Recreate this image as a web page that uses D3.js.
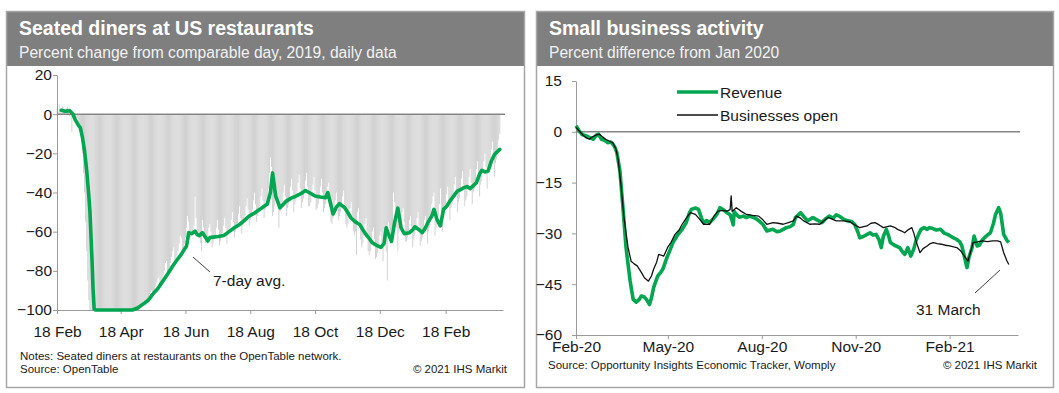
<!DOCTYPE html>
<html lang="en">
<head>
<meta charset="UTF-8">
<title>Seated diners / Small business activity</title>
<script src="https://cdn.jsdelivr.net/npm/d3@7"></script>
<style>
html,body{margin:0;padding:0;background:#fff}
svg{display:block;font-family:"Liberation Sans",Arial,sans-serif}
.panel-border{fill:none;stroke:#a6a6a6;stroke-width:1.5}
.header{fill:#7f7f7f}
.title{fill:#fff;font-size:19.5px;font-weight:bold}
.subtitle{fill:#f2f2f2;font-size:15.6px}
.axis text{font-size:15.5px;fill:#1a1a1a;font-family:"Liberation Sans",Arial,sans-serif}
.axis path,.axis line{stroke:#9a9a9a;stroke-width:1}
.zero{stroke:#858585;stroke-width:1.5}
.note{font-size:11.5px;fill:#1a1a1a}
.annot{font-size:15.5px;fill:#1a1a1a}
</style>
</head>
<body>
<svg id="chart" width="1059" height="393"></svg>
<script>
// ── Left: seated diners, daily from 18 Feb 2020 (one row per week) ──
var dinersStart = '2020-02-18';
var dinersDaily = [
  [3, 1, 5, 2, 0, 4, 1], [2, 0, 3, 4, 1, -1, 2], [-9, -2, -1, -4, -3, -2, -6],
  [-6, -9, -14, -20, -30, -40, -55], [-70, -85, -95, -100, -100, -100, -100],
  [-100, -100, -100, -100, -100, -100, -100], [-100, -100, -100, -100, -100, -100, -100],
  [-100, -100, -100, -100, -100, -100, -100], [-100, -100, -100, -100, -100, -100, -100],
  [-100, -100, -100, -100, -100, -100, -100], [-100, -100, -100, -100, -100, -100, -100],
  [-99, -98, -97, -97, -96, -95, -98], [-96, -95, -94, -92, -91, -90, -94],
  [-92, -90, -88, -86, -84, -83, -88], [-86, -84, -82, -80, -76, -75, -82],
  [-80, -78, -76, -73, -70, -68, -77], [-74, -72, -70, -66, -62, -63, -72],
  [-68, -66, -63, -58, -52, -55, -64], [-63, -62, -60, -57, -42, -53, -62],
  [-62, -61, -66, -70, -54, -58, -63], [-66, -65, -63, -58, -56, -60, -68],
  [-66, -64, -62, -58, -54, -59, -67], [-65, -63, -61, -57, -53, -58, -66],
  [-62, -60, -58, -54, -50, -55, -63], [-60, -58, -56, -51, -47, -53, -61],
  [-57, -55, -52, -47, -43, -49, -57], [-54, -52, -49, -44, -40, -46, -55],
  [-52, -50, -47, -42, -38, -44, -53], [-49, -47, -44, -38, -30, -22, -27],
  [-52, -50, -47, -42, -38, -44, -58], [-50, -48, -45, -40, -36, -42, -52],
  [-48, -46, -42, -37, -33, -39, -50], [-46, -44, -40, -35, -31, -38, -48],
  [-45, -43, -39, -34, -30, -37, -47], [-47, -45, -41, -36, -32, -39, -49],
  [-48, -46, -42, -37, -33, -40, -50], [-48, -46, -43, -37, -35, -44, -55],
  [-56, -53, -49, -44, -40, -46, -54], [-52, -50, -47, -42, -39, -46, -56],
  [-58, -56, -53, -48, -45, -52, -60], [-62, -60, -72, -50, -48, -55, -64],
  [-68, -66, -62, -56, -53, -60, -70], [-72, -70, -66, -60, -58, -64, -74],
  [-73, -71, -68, -62, -60, -66, -75], [-68, -62, -70, -85, -55, -58, -66],
  [-64, -58, -40, -45, -52, -58, -70], [-60, -58, -55, -50, -48, -55, -65],
  [-65, -63, -60, -54, -52, -58, -68], [-64, -62, -58, -53, -50, -57, -67],
  [-65, -63, -59, -54, -52, -58, -66], [-60, -58, -52, -46, -42, -40, -62],
  [-58, -56, -52, -46, -38, -50, -60], [-53, -51, -47, -41, -37, -44, -54],
  [-48, -46, -42, -36, -32, -39, -50], [-45, -43, -39, -33, -29, -36, -47],
  [-44, -42, -38, -32, -28, -35, -46], [-40, -38, -34, -28, -24, -30, -42],
  [-36, -34, -30, -24, -20, -27, -38], [-30, -28, -24, -18, -14, -20, -32],
  [-25, -23, -19, -13, -10]
];

// 7-day average
var dinersAvg = [
  ['2020-02-22', 2], ['2020-02-26', 1.5], ['2020-03-01', 1.8], ['2020-03-04', 0], ['2020-03-06', -2.7],
  ['2020-03-09', -5.5], ['2020-03-11', -7], ['2020-03-13', -12], ['2020-03-15', -19], ['2020-03-17', -29],
  ['2020-03-19', -42], ['2020-03-20', -49.5], ['2020-03-22', -75], ['2020-03-23', -90], ['2020-03-24', -99.5],
  ['2020-03-25', -100], ['2020-04-29', -100], ['2020-05-04', -99], ['2020-05-09', -97], ['2020-05-14', -95],
  ['2020-05-18', -92], ['2020-05-23', -89], ['2020-05-28', -85], ['2020-06-02', -81], ['2020-06-06', -77.5],
  ['2020-06-10', -74.5], ['2020-06-14', -71.6], ['2020-06-17', -69], ['2020-06-19', -67.3], ['2020-06-21', -60.5],
  ['2020-06-24', -61], ['2020-06-27', -59.7], ['2020-06-29', -61.5], ['2020-07-01', -62], ['2020-07-04', -60.5],
  ['2020-07-07', -63], ['2020-07-09', -64.8], ['2020-07-11', -63], ['2020-07-14', -62.8], ['2020-07-19', -62.5],
  ['2020-07-24', -62], ['2020-07-29', -60], ['2020-08-03', -58], ['2020-08-08', -56.3], ['2020-08-12', -54.5],
  ['2020-08-17', -52], ['2020-08-22', -50.5], ['2020-08-27', -48.6], ['2020-08-31', -47], ['2020-09-03', -46],
  ['2020-09-06', -40], ['2020-09-08', -30], ['2020-09-11', -42], ['2020-09-15', -47.8], ['2020-09-21', -44.4],
  ['2020-09-25', -43], ['2020-09-30', -41.8], ['2020-10-05', -40.5], ['2020-10-09', -39], ['2020-10-14', -40.5],
  ['2020-10-18', -41.8], ['2020-10-23', -42.3], ['2020-10-28', -42.7], ['2020-10-30', -40], ['2020-11-04', -51],
  ['2020-11-07', -47.5], ['2020-11-10', -45.7], ['2020-11-15', -47.8], ['2020-11-21', -53], ['2020-11-25', -55],
  ['2020-11-29', -56.3], ['2020-12-02', -59], ['2020-12-05', -61.4], ['2020-12-08', -63.5], ['2020-12-11', -65.7],
  ['2020-12-15', -67], ['2020-12-19', -68], ['2020-12-22', -66], ['2020-12-24', -58], ['2020-12-26', -61],
  ['2020-12-29', -65], ['2021-01-01', -55], ['2021-01-04', -48], ['2021-01-07', -58], ['2021-01-10', -61],
  ['2021-01-15', -60.5], ['2021-01-18', -59], ['2021-01-20', -57.5], ['2021-01-24', -59], ['2021-01-27', -60.5],
  ['2021-01-30', -58], ['2021-02-02', -54.6], ['2021-02-05', -52], ['2021-02-07', -48.6], ['2021-02-10', -54],
  ['2021-02-13', -57], ['2021-02-16', -48.6], ['2021-02-19', -47], ['2021-02-22', -44.4], ['2021-02-26', -41.5],
  ['2021-03-01', -39.3], ['2021-03-04', -38.5], ['2021-03-07', -37.6], ['2021-03-10', -37], ['2021-03-13', -38],
  ['2021-03-16', -36.5], ['2021-03-19', -35], ['2021-03-22', -30.5], ['2021-03-24', -28.7], ['2021-03-27', -29.5],
  ['2021-03-30', -29], ['2021-04-02', -24], ['2021-04-05', -20.6], ['2021-04-08', -19], ['2021-04-10', -18]
];

var dinersTicksY = [20, 0, -20, -40, -60, -80, -100];
var dinersTicksX = ['2020-02-18', '2020-04-18', '2020-06-18', '2020-08-18', '2020-10-18', '2020-12-18', '2021-02-18'];
var dinersTickLabels = ['18 Feb', '18 Apr', '18 Jun', '18 Aug', '18 Oct', '18 Dec', '18 Feb'];

// ── Right: small business activity ──
var revenue = [
  ['2020-02-01', 1.8], ['2020-02-04', 0.3], ['2020-02-07', -0.8], ['2020-02-11', -1.2], ['2020-02-15', -1.8],
  ['2020-02-18', -2.2], ['2020-02-21', -1], ['2020-02-23', -0.7], ['2020-02-26', -2.2], ['2020-02-29', -2.5],
  ['2020-03-03', -3.2], ['2020-03-06', -3], ['2020-03-08', -3.6], ['2020-03-10', -4.5], ['2020-03-12', -6.1],
  ['2020-03-15', -11.5], ['2020-03-18', -22.4], ['2020-03-21', -34.2], ['2020-03-25', -44], ['2020-03-28', -49.5],
  ['2020-03-31', -50.3], ['2020-04-03', -49.5], ['2020-04-05', -48.5], ['2020-04-08', -48.8], ['2020-04-10', -49.5],
  ['2020-04-13', -51], ['2020-04-15', -49], ['2020-04-17', -46], ['2020-04-21', -42.6], ['2020-04-24', -41.5],
  ['2020-04-26', -40.6], ['2020-04-30', -37.2], ['2020-05-03', -35], ['2020-05-06', -32.7], ['2020-05-11', -30.3],
  ['2020-05-15', -28.8], ['2020-05-19', -26.8], ['2020-05-22', -24], ['2020-05-24', -22.9], ['2020-05-28', -22.5],
  ['2020-05-31', -22.9], ['2020-06-03', -25.5], ['2020-06-05', -26.8], ['2020-06-08', -26.2], ['2020-06-11', -26.8],
  ['2020-06-15', -25.5], ['2020-06-18', -24.4], ['2020-06-21', -22.4], ['2020-06-25', -23.2], ['2020-06-28', -23.9],
  ['2020-07-01', -24.5], ['2020-07-03', -26.3], ['2020-07-04', -27.5], ['2020-07-05', -23.5], ['2020-07-07', -24.4],
  ['2020-07-10', -25.2], ['2020-07-14', -24.9], ['2020-07-17', -25.3], ['2020-07-20', -24.9], ['2020-07-24', -25.3],
  ['2020-07-27', -25.8], ['2020-07-30', -26.5], ['2020-08-02', -27.3], ['2020-08-06', -29.3], ['2020-08-09', -29],
  ['2020-08-12', -28.8], ['2020-08-16', -29.5], ['2020-08-19', -29.3], ['2020-08-22', -28.8], ['2020-08-25', -28.3],
  ['2020-08-29', -28], ['2020-09-01', -27.3], ['2020-09-03', -25.3], ['2020-09-05', -24.8], ['2020-09-08', -23.9],
  ['2020-09-11', -25], ['2020-09-15', -26.3], ['2020-09-20', -25.3], ['2020-09-24', -26], ['2020-09-29', -26.8],
  ['2020-10-02', -25.8], ['2020-10-06', -24.9], ['2020-10-10', -25.5], ['2020-10-13', -24.5], ['2020-10-16', -24.9],
  ['2020-10-20', -25.8], ['2020-10-24', -26.3], ['2020-10-28', -26.5], ['2020-10-31', -27.3], ['2020-11-03', -29.5],
  ['2020-11-05', -31.3], ['2020-11-08', -31], ['2020-11-11', -30.5], ['2020-11-15', -29.8], ['2020-11-18', -30.5],
  ['2020-11-21', -30.3], ['2020-11-24', -32], ['2020-11-26', -34.2], ['2020-11-28', -31], ['2020-12-01', -28.8],
  ['2020-12-03', -30.5], ['2020-12-05', -32.7], ['2020-12-09', -33.5], ['2020-12-14', -34.2], ['2020-12-17', -35.5],
  ['2020-12-19', -36.2], ['2020-12-22', -34.2], ['2020-12-25', -36.7], ['2020-12-28', -34.5], ['2020-12-30', -32.2],
  ['2021-01-02', -30], ['2021-01-04', -28.8], ['2021-01-07', -28.3], ['2021-01-10', -28.8], ['2021-01-12', -28.3],
  ['2021-01-15', -28.5], ['2021-01-19', -29], ['2021-01-23', -28.8], ['2021-01-27', -30], ['2021-01-30', -30.3],
  ['2021-02-03', -31], ['2021-02-08', -31.8], ['2021-02-11', -32.5], ['2021-02-13', -33.7], ['2021-02-16', -37.5],
  ['2021-02-18', -40.1], ['2021-02-20', -37], ['2021-02-23', -34.2], ['2021-02-25', -30.8], ['2021-02-28', -33.7],
  ['2021-03-02', -33.5], ['2021-03-05', -32], ['2021-03-07', -31.3], ['2021-03-10', -30.5], ['2021-03-13', -29.8],
  ['2021-03-16', -27], ['2021-03-18', -24.4], ['2021-03-21', -22.4], ['2021-03-23', -24], ['2021-03-26', -30.3],
  ['2021-03-29', -32], ['2021-03-31', -32.7]
];

var businessesOpen = [
  ['2020-02-01', 1.3], ['2020-02-04', 0.3], ['2020-02-08', -1], ['2020-02-11', -1.8], ['2020-02-14', -2.2],
  ['2020-02-17', -1.5], ['2020-02-19', -1.2], ['2020-02-21', -0.9], ['2020-02-24', -0.7], ['2020-02-27', -1.5],
  ['2020-03-01', -2.2], ['2020-03-05', -2.8], ['2020-03-08', -3.2], ['2020-03-11', -5], ['2020-03-13', -7.6],
  ['2020-03-16', -15.5], ['2020-03-19', -25.3], ['2020-03-23', -34.2], ['2020-03-26', -38.2], ['2020-03-29', -39],
  ['2020-04-01', -39.6], ['2020-04-05', -41.5], ['2020-04-08', -43.1], ['2020-04-12', -44.1], ['2020-04-15', -42.5],
  ['2020-04-17', -40.6], ['2020-04-20', -38.5], ['2020-04-22', -36.2], ['2020-04-25', -36.5], ['2020-04-27', -36.7],
  ['2020-05-01', -34], ['2020-05-04', -32.7], ['2020-05-08', -30.3], ['2020-05-12', -29], ['2020-05-15', -27.3],
  ['2020-05-19', -25.5], ['2020-05-23', -23.9], ['2020-05-28', -24.4], ['2020-06-01', -25.8], ['2020-06-05', -27.3],
  ['2020-06-11', -27.3], ['2020-06-15', -25], ['2020-06-19', -23.4], ['2020-06-24', -23.2], ['2020-06-28', -23.4],
  ['2020-07-01', -23], ['2020-07-02', -18.9], ['2020-07-03', -23.5], ['2020-07-07', -22.4], ['2020-07-12', -23.5],
  ['2020-07-17', -24.4], ['2020-07-23', -24.7], ['2020-07-29', -24.9], ['2020-08-02', -26], ['2020-08-06', -27.3],
  ['2020-08-12', -26.8], ['2020-08-17', -27], ['2020-08-22', -27.3], ['2020-08-27', -26.8], ['2020-09-01', -26.3],
  ['2020-09-04', -24.9], ['2020-09-08', -25.5], ['2020-09-11', -26.3], ['2020-09-17', -27.3], ['2020-09-22', -27.2],
  ['2020-09-27', -27.3], ['2020-10-01', -26.3], ['2020-10-05', -25.3], ['2020-10-09', -25.8], ['2020-10-13', -26.3],
  ['2020-10-20', -26.3], ['2020-10-26', -26.5], ['2020-10-31', -27.5], ['2020-11-05', -28.3], ['2020-11-09', -28],
  ['2020-11-12', -27.8], ['2020-11-16', -27], ['2020-11-20', -26.8], ['2020-11-24', -27.5], ['2020-11-28', -28.3],
  ['2020-12-02', -28], ['2020-12-05', -27.8], ['2020-12-09', -28.2], ['2020-12-12', -28.8], ['2020-12-16', -29.3],
  ['2020-12-19', -29.8], ['2020-12-23', -28.8], ['2020-12-26', -28.3], ['2020-12-28', -30], ['2020-12-30', -32.2],
  ['2021-01-03', -35.7], ['2021-01-06', -34.5], ['2021-01-10', -33.7], ['2021-01-13', -33], ['2021-01-16', -32.7],
  ['2021-01-20', -33], ['2021-01-24', -33.2], ['2021-01-28', -33.5], ['2021-02-01', -33.7], ['2021-02-05', -34],
  ['2021-02-08', -34.2], ['2021-02-12', -35.2], ['2021-02-15', -36.5], ['2021-02-19', -38.2], ['2021-02-22', -35],
  ['2021-02-24', -32.7], ['2021-02-28', -32.5], ['2021-03-05', -32.2], ['2021-03-10', -32.4], ['2021-03-15', -32.2],
  ['2021-03-20', -32.2], ['2021-03-23', -32.5], ['2021-03-26', -35.7], ['2021-03-29', -38], ['2021-03-31', -39.2]
];

var smbTicksY = [15, 0, -15, -30, -45, -60];
var smbTicksX = ['2020-02-01', '2020-05-01', '2020-08-01', '2020-11-01', '2021-02-01'];
var smbTickLabels = ['Feb-20', 'May-20', 'Aug-20', 'Nov-20', 'Feb-21'];

var GREEN = '#00a650';
var parse = d3.timeParse('%Y-%m-%d');
var svg = d3.select('#chart');

function panel(x0, x1, title, subtitle) {
  svg.append('rect').attr('class', 'header')
    .attr('x', x0).attr('y', 12).attr('width', x1 - x0).attr('height', 54);
  svg.append('rect').attr('class', 'panel-border')
    .attr('x', x0 + 0.5).attr('y', 11.5).attr('width', x1 - x0 - 1).attr('height', 376);
  svg.append('text').attr('class', 'title').attr('x', x0 + 13).attr('y', 35).text(title);
  svg.append('text').attr('class', 'subtitle').attr('x', x0 + 13).attr('y', 58).text(subtitle);
}

panel(6, 525, 'Seated diners at US restaurants', 'Percent change from comparable day, 2019, daily data');
panel(536, 1054, 'Small business activity', 'Percent difference from Jan 2020');

// ── Left chart ──
var xL = d3.scaleTime().domain([parse('2020-02-18'), parse('2021-04-13')]).range([57, 503]);
var yL = d3.scaleLinear().domain([-100, 20]).range([310, 75]);
var start = parse(dinersStart);
var daily = [];
dinersDaily.forEach(function(week, w) {
  week.forEach(function(v, d) {
    daily.push({ date: d3.timeDay.offset(start, w * 7 + d), value: v });
  });
});

var gL = svg.append('g');
gL.append('g').selectAll('rect').data(daily).join('rect')
  .attr('x', function(d) { return xL(d.date) - 0.42; })
  .attr('width', 0.85)
  .attr('y', function(d) { return yL(Math.max(0, d.value)); })
  .attr('height', function(d) { return Math.abs(yL(d.value) - yL(0)); })
  .attr('fill', '#cbcbcb');

gL.append('g').attr('class', 'axis')
  .attr('transform', 'translate(57,0)')
  .call(d3.axisLeft(yL).tickValues(dinersTicksY).tickSize(4).tickSizeOuter(0).tickPadding(1));

gL.append('g').attr('class', 'axis')
  .attr('transform', 'translate(0,310)')
  .call(d3.axisBottom(xL).tickValues(dinersTicksX.map(parse)).tickSize(4).tickSizeOuter(0).tickPadding(12)
    .tickFormat(function(d, i) { return dinersTickLabels[i]; }));

gL.append('line').attr('class', 'zero')
  .attr('x1', 57).attr('x2', 505).attr('y1', yL(0)).attr('y2', yL(0));

gL.append('path').datum(dinersAvg)
  .attr('fill', 'none').attr('stroke', GREEN).attr('stroke-width', 3.6)
  .attr('stroke-linejoin', 'round').attr('stroke-linecap', 'round')
  .attr('d', d3.line().x(function(d) { return xL(parse(d[0])); }).y(function(d) { return yL(d[1]); }));

gL.append('line').attr('x1', 193).attr('y1', 257).attr('x2', 210).attr('y2', 272)
  .attr('stroke', '#404040').attr('stroke-width', 1);
gL.append('text').attr('class', 'annot').attr('x', 213).attr('y', 286).text('7-day avg.');

gL.append('text').attr('class', 'note').attr('x', 20).attr('y', 360)
  .text('Notes: Seated diners at restaurants on the OpenTable network.');
gL.append('text').attr('class', 'note').attr('x', 20).attr('y', 373).text('Source: OpenTable');
gL.append('text').attr('class', 'note').attr('x', 507).attr('y', 373).attr('text-anchor', 'end')
  .text('\u00a9 2021 IHS Markit');

// ── Right chart ──
var xR = d3.scaleTime().domain([parse('2020-02-01'), parse('2021-04-09')]).range([576, 1018]);
var yR = d3.scaleLinear().domain([-60, 15]).range([335, 81]);
var gR = svg.append('g');

gR.append('g').attr('class', 'axis')
  .attr('transform', 'translate(576,0)')
  .call(d3.axisLeft(yR).tickValues(smbTicksY).tickSize(4).tickSizeOuter(0).tickPadding(10));

gR.append('g').attr('class', 'axis')
  .attr('transform', 'translate(0,335)')
  .call(d3.axisBottom(xR).tickValues(smbTicksX.map(parse)).tickSize(4).tickSizeOuter(0).tickPadding(2)
    .tickFormat(function(d, i) { return smbTickLabels[i]; }));

gR.append('line').attr('class', 'zero')
  .attr('x1', 576).attr('x2', 1020).attr('y1', yR(0)).attr('y2', yR(0));

var lineR = d3.line().x(function(d) { return xR(parse(d[0])); }).y(function(d) { return yR(d[1]); });
gR.append('path').datum(revenue)
  .attr('fill', 'none').attr('stroke', GREEN).attr('stroke-width', 3.6)
  .attr('stroke-linejoin', 'round').attr('d', lineR);
gR.append('path').datum(businessesOpen)
  .attr('fill', 'none').attr('stroke', '#111').attr('stroke-width', 1.3)
  .attr('stroke-linejoin', 'round').attr('d', lineR);

// legend
var legend = [{ name: 'Revenue', color: GREEN, width: 3.6, y: 92 }, { name: 'Businesses open', color: '#111', width: 1.3, y: 115 }];
legend.forEach(function(l) {
  gR.append('line').attr('x1', 677).attr('x2', 718).attr('y1', l.y).attr('y2', l.y)
    .attr('stroke', l.color).attr('stroke-width', l.width);
  gR.append('text').attr('class', 'annot').attr('x', 720).attr('y', l.y + 5.5).text(l.name);
});

gR.append('line').attr('x1', 975).attr('y1', 293).attr('x2', 1000).attr('y2', 270)
  .attr('stroke', '#404040').attr('stroke-width', 1);
gR.append('text').attr('class', 'annot').attr('x', 916).attr('y', 315).text('31 March');

gR.append('text').attr('class', 'note').attr('x', 548).attr('y', 369)
  .text('Source: Opportunity Insights Economic Tracker, Womply');
gR.append('text').attr('class', 'note').attr('x', 1037).attr('y', 369).attr('text-anchor', 'end')
  .text('\u00a9 2021 IHS Markit');
</script>
</body>
</html>
